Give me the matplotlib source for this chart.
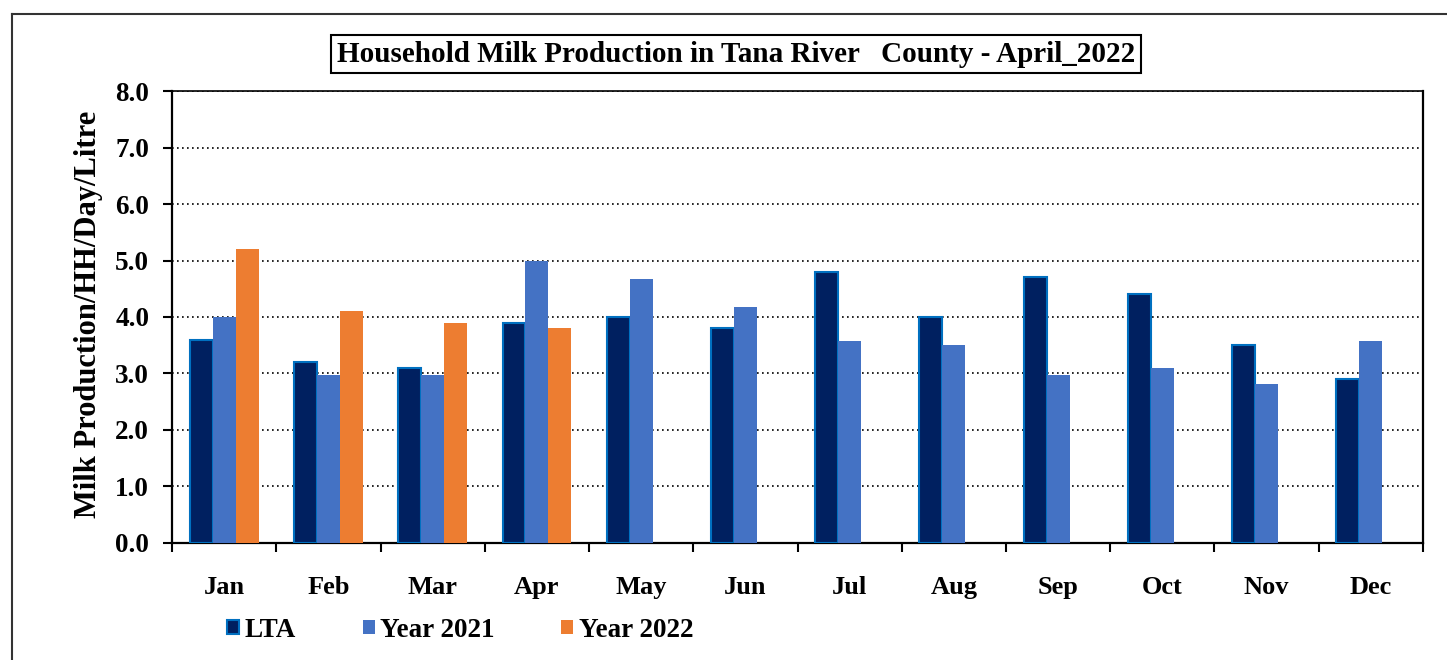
import numpy as np
from matplotlib import pyplot as plt
from matplotlib.lines import Line2D

plt.rcParams['font.family'] = ['Liberation Serif', 'DejaVu Serif']
plt.rcParams['font.weight'] = 'bold'

months = ["Jan", "Feb", "Mar", "Apr", "May", "Jun", "Jul", "Aug", "Sep", "Oct", "Nov", "Dec"]
lta = [3.6, 3.2, 3.1, 3.9, 4.0, 3.8, 4.8, 4.0, 4.7, 4.4, 3.5, 2.9]
year_2021 = [4.0, 2.97, 2.97, 5.0, 4.67, 4.18, 3.58, 3.5, 2.97, 3.09, 2.81, 3.58]
year_2022 = [5.2, 4.1, 3.9, 3.8]

y_ticks = np.arange(0, 8.1, 1.0)

fig = plt.figure(figsize=(14.47, 6.6), dpi=100)
ax = fig.add_axes([0.1189, 0.1773, 0.8645, 0.6848])

# Bars: three slots per month, the 2022 slot stays empty after April
width = 0.22
centres = np.arange(len(months)) + 0.5
ax.bar(centres - width, lta, width, color="#002060", edgecolor="#0070C0", linewidth=1.5, label="LTA", zorder=3)
ax.bar(centres, year_2021, width, color="#4472C4", label="Year 2021", zorder=3)
ax.bar(centres[:len(year_2022)] + width, year_2022, width, color="#ED7D31", label="Year 2022", zorder=3)

ax.set_xlim(0, len(months))
ax.set_ylim(0, 8)

# Category boundaries get tick marks, labels sit at the centres
ax.set_xticks(np.arange(len(months) + 1))
ax.set_xticklabels([])
ax.set_xticks(centres, minor=True)
ax.set_xticklabels(months, minor=True, fontsize=19, fontweight="bold")
ax.tick_params(axis="x", which="major", direction="out", length=6.5, width=1.5)
ax.tick_params(axis="x", which="minor", length=0, pad=24)

ax.set_yticks(y_ticks)
ax.set_yticklabels([f"{v:.1f}" for v in y_ticks], fontsize=19.5, fontweight="bold")
ax.tick_params(axis="y", direction="out", length=6.5, width=1.5, pad=10)

ax.grid(axis="y", color="black", linestyle=(0, (1, 2)), linewidth=1.2, zorder=1)

for side in ["left", "bottom", "right"]:
    ax.spines[side].set_linewidth(1.6)
    ax.spines[side].set_color("black")
ax.spines["top"].set_linestyle((0, (2, 1)))
ax.spines["top"].set_linewidth(1.2)

fig.text(0.061, 0.523, "Milk Production/HH/Day/Litre", rotation=90, ha="center", va="center",
         fontsize=22, fontweight="bold")

fig.text(0.5085, 0.918, "Household Milk Production in Tana River   County - April_2022",
         ha="center", va="center", fontsize=21, fontweight="bold",
         bbox=dict(boxstyle="square,pad=0.2", facecolor="white", edgecolor="black", linewidth=1.5))

fig.legend(loc="center left", bbox_to_anchor=(0.157, 0.045), ncol=3, frameon=False,
           prop=dict(size=19.5, weight="bold"), handlelength=0.45, handleheight=0.45,
           handletextpad=0.2, columnspacing=2.45, borderaxespad=0, borderpad=0)

# Outer chart border: only the left and top edges show inside the picture
fig.add_artist(Line2D([0.0083, 0.0083], [-0.1, 0.979], color="#333333", linewidth=1.5))
fig.add_artist(Line2D([0.0083, 1.1], [0.979, 0.979], color="#333333", linewidth=1.5))

fig.savefig("out.png", dpi=100)
